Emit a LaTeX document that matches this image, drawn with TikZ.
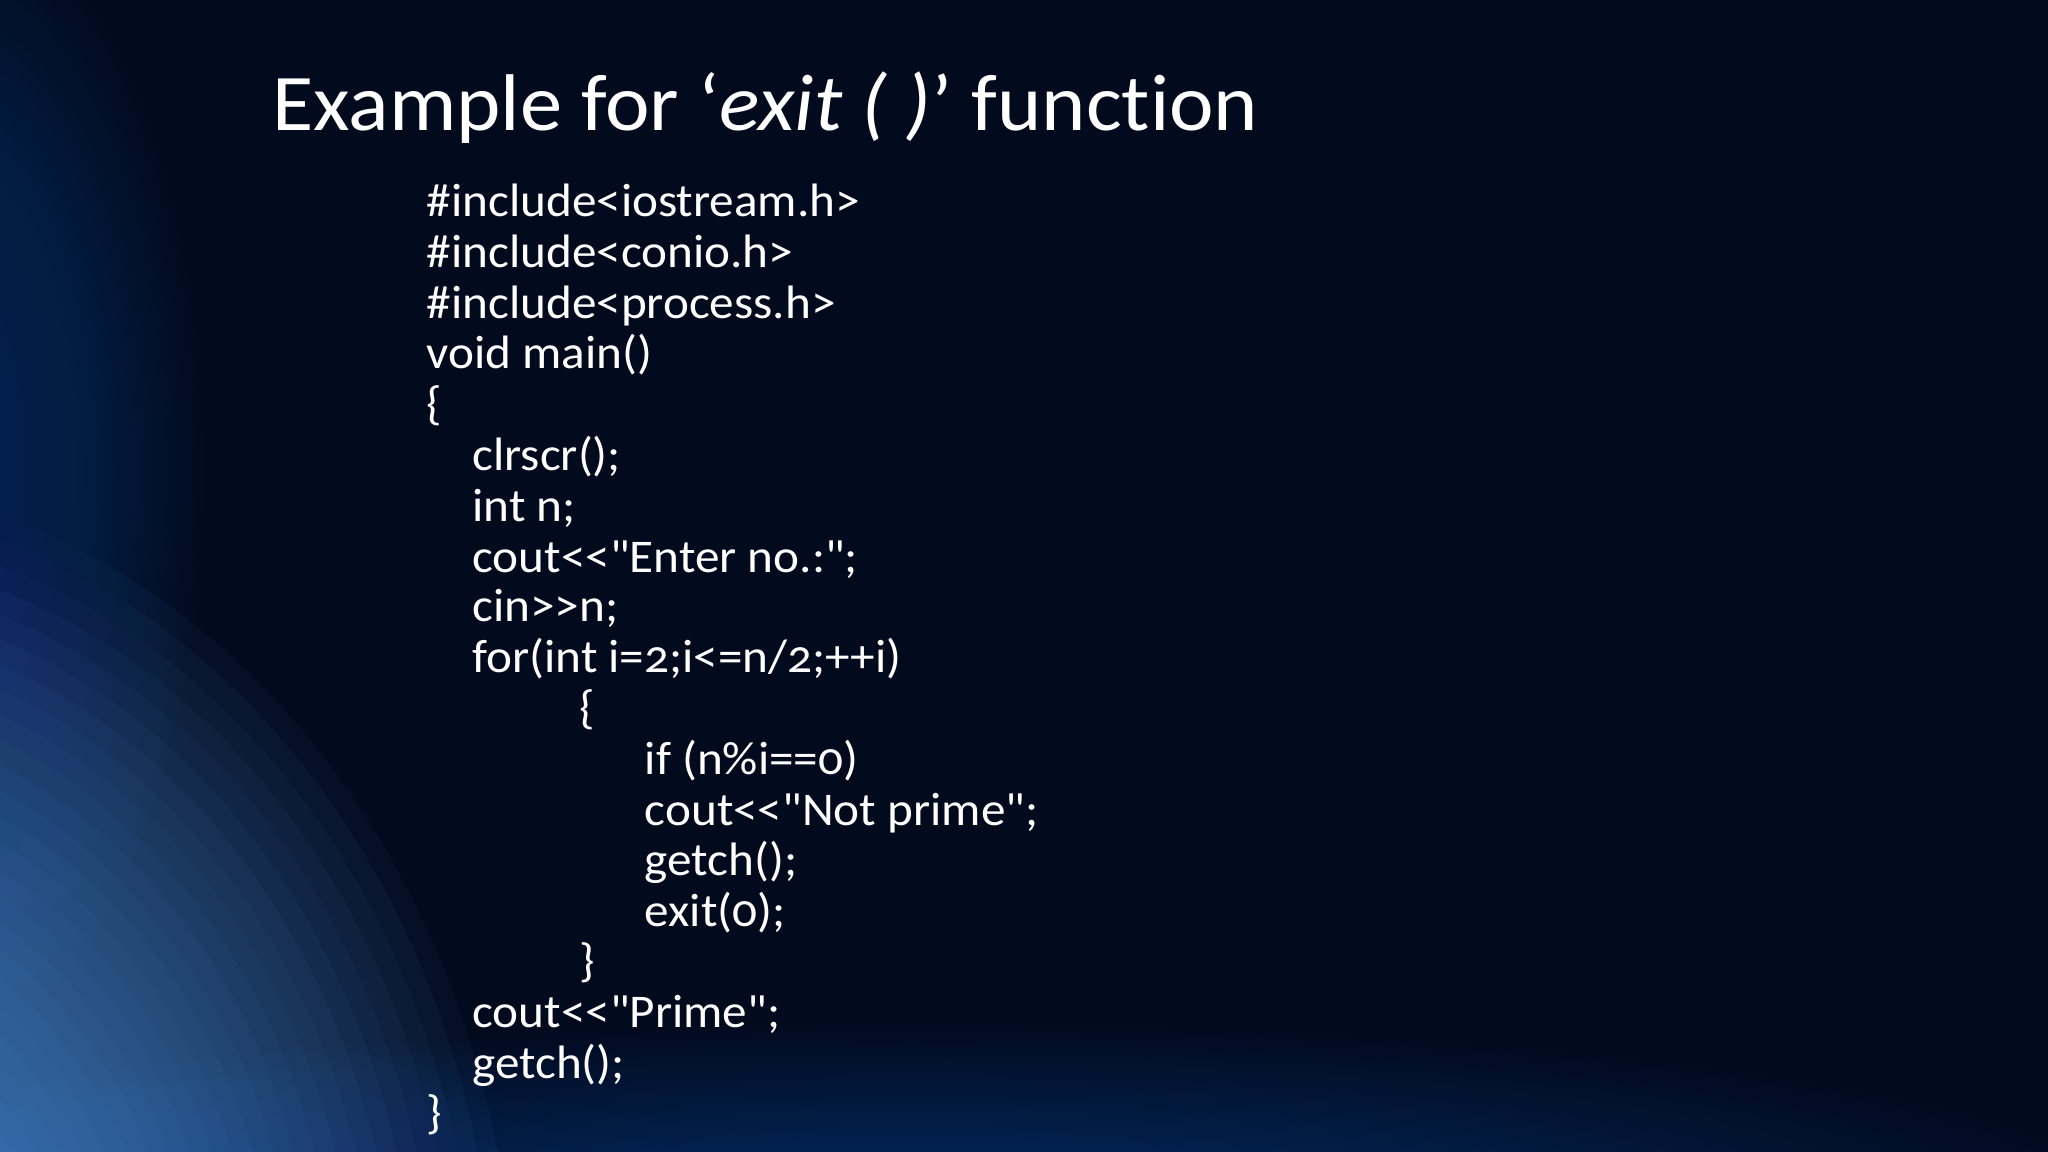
\documentclass[tikz,border=0pt]{standalone}
\usepackage{fontspec}
\setmainfont{Carlito}[Numbers=OldStyle,Ligatures={TeXOff,NoCommon},FakeStretch=1.05]
\begin{document}
\begin{tikzpicture}[x=0.01cm,y=0.01cm,
  code/.style={anchor=base west,inner sep=0pt,text=white,font=\fontsize{10.2pt}{11pt}\selectfont}]
\definecolor{swoosh}{RGB}{90,165,245}
\definecolor{deep}{RGB}{30,80,160}
\fill[fill={rgb,255:red,2;green,10;blue,30}] (0,0) rectangle (1568,882);
\useasboundingbox (0,0) rectangle (1568,882);
\begin{scope}
\clip (0,0) rectangle (1568,882);
\foreach \k in {1,...,30}{
  \fill[deep,opacity=0.02] (-40,520) ellipse ({200-5*\k} and {440-10*\k});
  \fill[deep,opacity=0.025] (700,-40) ellipse ({950-25*\k} and {140-4*\k});
  \fill[swoosh,opacity=0.045] (-150,-150) ellipse ({560-15*\k} and {680-18*\k});
}
\end{scope}
\node[anchor=base west,inner sep=0pt,text=white,font=\fontsize{17.5pt}{20pt}\selectfont] (title) at (208,782) {Example for ‘\textit{exit ( )}’ function};
\node[code] (l1) at (326,716) {\#include<iostream.h>};
\node[code] (l2) at (326,677) {\#include<conio.h>};
\node[code] (l3) at (326,638) {\#include<process.h>};
\node[code] (l4) at (326,600) {void main()};
\node[code] (l5) at (326,561) {\{};
\node[code] (l6) at (361,522) {clrscr();};
\node[code] (l7) at (361,483) {int n;};
\node[code] (l8) at (361,444) {cout<<"Enter no.:";};
\node[code] (l9) at (361,406) {cin>>n;};
\node[code] (l10) at (361,367) {for(int i=2;i<=n/2;++i)};
\node[code] (l11) at (443,328) {\{};
\node[code] (l12) at (493,289) {if (n\%i==0)};
\node[code] (l13) at (493,250) {cout<<"Not prime";};
\node[code] (l14) at (493,212) {getch();};
\node[code] (l15) at (493,173) {exit(0);};
\node[code] (l16) at (443,134) {\}};
\node[code] (l17) at (361,95) {cout<<"Prime";};
\node[code] (l18) at (361,56) {getch();};
\node[code] (l19) at (326,18) {\}};
\end{tikzpicture}
\end{document}
